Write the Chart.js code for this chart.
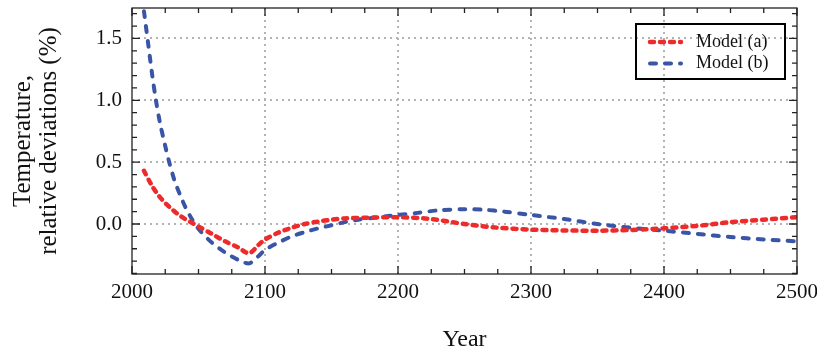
<!DOCTYPE html>
<html>
<head>
    <title>Temperature relative deviations</title>
    <script src="https://cdn.jsdelivr.net/npm/chart.js@4/dist/chart.umd.min.js"></script>
    <style>
        body { margin: 0; background: #fff; }
        #wrap { width: 817px; height: 352px; }
    </style>
</head>
<body>
    <div id="wrap"><canvas id="chart" width="817" height="352"></canvas></div>
    <script>
        // values
        const yearsA = [2009, 2015, 2020, 2025, 2030, 2035, 2040, 2045, 2050, 2060, 2070, 2080, 2088,
                        2095, 2100, 2110, 2120, 2130, 2140, 2150, 2160, 2175, 2200, 2225, 2250, 2275,
                        2300, 2325, 2350, 2375, 2400, 2425, 2450, 2475, 2500];
        const valuesA = [0.43, 0.31, 0.23, 0.17, 0.12, 0.075, 0.04, 0.01, -0.02, -0.08, -0.14, -0.19, -0.237,
                         -0.17, -0.125, -0.07, -0.03, 0.0, 0.02, 0.035, 0.045, 0.05, 0.055, 0.04, 0.0, -0.03,
                         -0.045, -0.052, -0.054, -0.048, -0.035, -0.015, 0.015, 0.035, 0.055];
        const yearsB = [2009, 2012, 2015, 2018, 2021, 2025, 2028, 2032, 2036, 2040, 2045, 2050, 2060, 2070,
                        2080, 2088, 2095, 2100, 2110, 2120, 2130, 2140, 2150, 2160, 2170, 2185, 2200, 2215,
                        2230, 2250, 2265, 2280, 2300, 2325, 2350, 2375, 2400, 2425, 2450, 2475, 2500];
        const valuesB = [1.72, 1.47, 1.22, 1.0, 0.82, 0.63, 0.5, 0.35, 0.24, 0.14, 0.04, -0.04, -0.15, -0.23,
                         -0.29, -0.318, -0.26, -0.21, -0.15, -0.10, -0.065, -0.035, -0.01, 0.015, 0.035, 0.055,
                         0.073, 0.09, 0.11, 0.12, 0.115, 0.1, 0.073, 0.04, 0.0, -0.03, -0.054, -0.08, -0.105,
                         -0.125, -0.14];
        const seriesNames = ['Model (a)', 'Model (b)'];
        const xTicks = [2000, 2100, 2200, 2300, 2400, 2500];
        const yTicks = [0.0, 0.5, 1.0, 1.5];

        const RED = '#ee2b2b';
        const BLUE = '#3a55a6';
        const SERIF = "'Liberation Serif', 'DejaVu Serif', serif";

        // grid, frame with inward ticks, and boxed legend
        const framePlugin = {
            id: 'frame',
            beforeDatasetsDraw(chart) {
                const { ctx, chartArea: a, scales: { x, y } } = chart;
                ctx.save();
                ctx.strokeStyle = '#b3b3b3';
                ctx.lineWidth = 2;
                ctx.setLineDash([2, 4]);
                xTicks.slice(1, -1).forEach(v => {
                    const px = Math.round(x.getPixelForValue(v));
                    ctx.beginPath(); ctx.moveTo(px, a.top); ctx.lineTo(px, a.bottom); ctx.stroke();
                });
                yTicks.forEach(v => {
                    const py = Math.round(y.getPixelForValue(v));
                    ctx.beginPath(); ctx.moveTo(a.left, py); ctx.lineTo(a.right, py); ctx.stroke();
                });
                ctx.restore();
            },
            afterDatasetsDraw(chart) {
                const { ctx, chartArea: a, scales: { x, y } } = chart;
                ctx.save();
                ctx.strokeStyle = '#222';
                ctx.lineWidth = 1.3;
                ctx.setLineDash([]);
                ctx.strokeRect(a.left, a.top, a.right - a.left, a.bottom - a.top);
                ctx.beginPath();
                for (let v = 2000; v <= 2500; v += 25) {
                    const px = x.getPixelForValue(v);
                    const len = v % 100 === 0 ? 8 : 5;
                    ctx.moveTo(px, a.bottom); ctx.lineTo(px, a.bottom - len);
                    ctx.moveTo(px, a.top); ctx.lineTo(px, a.top + len);
                }
                for (let i = -4; i <= 17; i++) {
                    const v = i / 10;
                    const py = y.getPixelForValue(v);
                    const len = i % 5 === 0 ? 8 : 5;
                    ctx.moveTo(a.left, py); ctx.lineTo(a.left + len, py);
                    ctx.moveTo(a.right, py); ctx.lineTo(a.right - len, py);
                }
                ctx.stroke();

                // legend
                const bx = 636, by = 24, bw = 149, bh = 55;
                ctx.lineWidth = 2;
                ctx.strokeStyle = '#000';
                ctx.strokeRect(bx, by, bw, bh);
                ctx.font = '18px ' + SERIF;
                ctx.fillStyle = '#111';
                ctx.textBaseline = 'middle';
                chart.data.datasets.forEach((ds, i) => {
                    const ly = by + 18 + i * 21.5;
                    ctx.strokeStyle = ds.borderColor;
                    ctx.lineWidth = ds.borderWidth;
                    ctx.lineCap = 'round';
                    ctx.setLineDash(ds.borderDash);
                    ctx.beginPath(); ctx.moveTo(650, ly); ctx.lineTo(681, ly); ctx.stroke();
                    ctx.setLineDash([]);
                    ctx.fillText(ds.label, 696, ly);
                });
                ctx.restore();
            }
        };

        new Chart(document.getElementById('chart'), {
            type: 'line',
            data: {
                datasets: [{
                    label: seriesNames[0],
                    data: yearsA.map((yr, i) => ({ x: yr, y: valuesA[i] })),
                    borderColor: RED,
                    borderWidth: 4.5,
                    borderDash: [4, 6],
                    borderCapStyle: 'round',
                    pointRadius: 0,
                    tension: 0.3
                }, {
                    label: seriesNames[1],
                    data: yearsB.map((yr, i) => ({ x: yr, y: valuesB[i] })),
                    borderColor: BLUE,
                    borderWidth: 4,
                    borderDash: [6, 9],
                    borderCapStyle: 'round',
                    pointRadius: 0,
                    tension: 0.3
                }]
            },
            options: {
                responsive: false,
                animation: false,
                layout: { padding: { left: 0, right: 20, top: 8, bottom: 0 } },
                plugins: { legend: { display: false }, tooltip: { enabled: false } },
                scales: {
                    x: {
                        type: 'linear',
                        min: 2000,
                        max: 2500,
                        afterBuildTicks: s => { s.ticks = xTicks.map(v => ({ value: v })); },
                        afterFit: s => { s.height = 78; s.paddingLeft = 0; s.paddingRight = 0; },
                        grid: { display: false, drawTicks: false },
                        border: { display: false },
                        ticks: { color: '#111', padding: 6, maxRotation: 0, font: { family: SERIF, size: 21 }, callback: v => String(v) },
                        title: { display: true, text: 'Year', color: '#111', padding: { top: 0, bottom: 0 },
                                 font: { family: SERIF, size: 24, lineHeight: 1.0 } }
                    },
                    y: {
                        min: -0.404,
                        max: 1.746,
                        afterBuildTicks: s => { s.ticks = yTicks.map(v => ({ value: v })); },
                        afterFit: s => { s.width = 132; s.paddingTop = 0; s.paddingBottom = 0; },
                        grid: { display: false, drawTicks: false },
                        border: { display: false },
                        ticks: { color: '#111', padding: 10, font: { family: SERIF, size: 21 }, callback: v => v.toFixed(1) },
                        title: { display: true, text: ['Temperature,', 'relative deviations (%)'], color: '#111',
                                 padding: { top: 10, bottom: 0 }, font: { family: SERIF, size: 25, lineHeight: 1.05 } }
                    }
                }
            },
            plugins: [framePlugin]
        });
    </script>
</body>
</html>
